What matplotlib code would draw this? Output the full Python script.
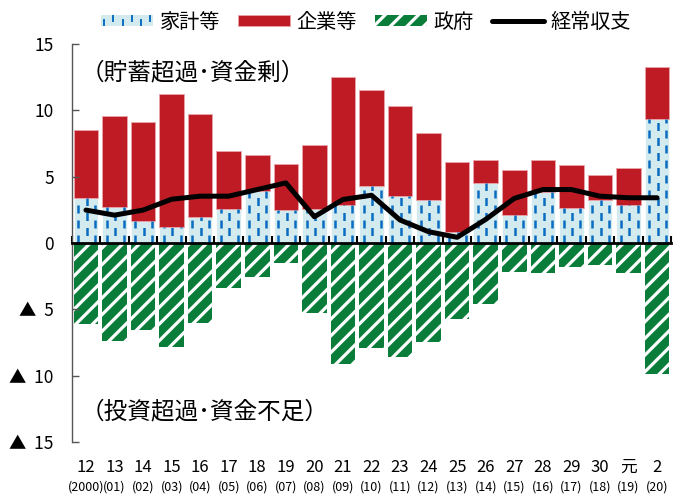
import numpy as np
import matplotlib
matplotlib.use('Agg')
import matplotlib.pyplot as plt
from matplotlib.lines import Line2D
from matplotlib.patches import Rectangle, Patch
from matplotlib.legend_handler import HandlerBase

plt.rcParams['font.family'] = ['Noto Sans CJK JP', 'DejaVu Sans']
plt.rcParams['hatch.linewidth'] = 2.3

# ---- data (percent of GDP) ----
years = ['12', '13', '14', '15', '16', '17', '18', '19', '20', '21', '22',
         '23', '24', '25', '26', '27', '28', '29', '30', '元', '2']
western = ['(2000)', '(01)', '(02)', '(03)', '(04)', '(05)', '(06)', '(07)',
           '(08)', '(09)', '(10)', '(11)', '(12)', '(13)', '(14)', '(15)',
           '(16)', '(17)', '(18)', '(19)', '(20)']
household = [3.36, 2.68, 1.65, 1.18, 1.98, 2.58, 3.93, 2.48, 2.60, 2.90, 4.31,
             3.56, 3.23, 0.80, 4.53, 2.13, 3.86, 2.66, 3.23, 2.86, 9.32]
corporate = [5.19, 6.87, 7.47, 10.02, 7.72, 4.34, 2.74, 3.51, 4.77, 9.58, 7.19,
             6.74, 5.09, 5.34, 1.74, 3.41, 2.38, 3.20, 1.88, 2.78, 3.96]
government = [-6.09, -7.35, -6.59, -7.84, -6.04, -3.41, -2.58, -1.48, -5.29,
              -9.10, -7.92, -8.60, -7.47, -5.74, -4.59, -2.20, -2.26, -1.83,
              -1.65, -2.28, -9.85]
current_account = [2.48, 2.10, 2.48, 3.30, 3.53, 3.53, 4.03, 4.53, 1.98, 3.28,
                   3.60, 1.73, 0.85, 0.43, 1.78, 3.36, 4.03, 4.03, 3.53, 3.41,
                   3.41]
ytick_vals = [15, 10, 5, 0, -5, -10, -15]
ytick_labels = ['15', '10', '5', '0', '▲  5', '▲  10', '▲  15']

LIGHT = '#d3eaef'
BLUE = '#0a6cc0'
RED = '#be1b24'
GREEN = '#0a7d3a'

fig = plt.figure(figsize=(6.8, 4.97), dpi=100)
ax = fig.add_axes([71.7 / 680, 1 - 442 / 497, (671.3 - 71.7) / 680, 398 / 497])

x = np.arange(len(years))
w = 0.86
hb = ax.bar(x, household, w, color=LIGHT, edgecolor='white', linewidth=0.5)
cb = ax.bar(x, corporate, w, bottom=household, color=RED,
            edgecolor='#e9a5aa', linewidth=0.6, label='企業等')
gb = ax.bar(x, government, w, color=GREEN, edgecolor='white', hatch='//',
            linewidth=0, label='政府')

# dashed vertical texture on household bars
for rect in hb:
    x0, wd, h = rect.get_x(), rect.get_width(), rect.get_height()
    for k, f in enumerate((0.18, 0.53, 0.87)):
        ax.plot([x0 + f * wd] * 2, [0, h], color=BLUE, lw=1.8,
                linestyle=(3.0 * (k % 2), (3.2, 2.8)), solid_capstyle='butt',
                dash_capstyle='butt', zorder=1.5)

ln, = ax.plot(x, current_account, color='black', lw=3.6,
              solid_joinstyle='round', solid_capstyle='round', zorder=5,
              label='経常収支')

ax.set_xlim(-0.5, len(years) - 0.5)
ax.set_ylim(-15, 15)

for s in ('top', 'right'):
    ax.spines[s].set_visible(False)
ax.spines['left'].set_color('#555555')
ax.spines['left'].set_linewidth(1.0)
ax.spines['bottom'].set_position(('data', 0))
ax.spines['bottom'].set_color('black')
ax.spines['bottom'].set_linewidth(2.0)
ax.spines['bottom'].set_zorder(6)

ax.set_yticks(ytick_vals, labels=ytick_labels)
ax.tick_params(axis='y', direction='in', length=5, width=1.0, color='#555555',
               pad=13, labelsize=12.5)

ax.set_xticks([])
ax.set_xticks(np.arange(-0.5, len(years), 1), minor=True)
ax.tick_params(axis='x', which='minor', direction='in', length=5, width=1.5,
               color='black', labelbottom=False)

sec = ax.secondary_xaxis('bottom')
sec.set_xticks(x, labels=years)
sec.tick_params(length=0, pad=12, labelsize=12)
sec.spines['bottom'].set_visible(False)

for xi, lab in zip(x, western):
    ax.text(xi, -0.113, lab, transform=ax.get_xaxis_transform(), ha='center',
            va='center', fontsize=9)

ax.text(0.014, 12.86, '（貯蓄超過･資金剰）', ha='left', va='center',
        fontsize=17, transform=ax.get_yaxis_transform())
ax.text(0.014, -12.7, '（投資超過･資金不足）', ha='left', va='center',
        fontsize=17, transform=ax.get_yaxis_transform())


class HouseHandler(HandlerBase):
    def create_artists(self, legend, orig_handle, xdescent, ydescent, width,
                       height, fontsize, trans):
        arts = [Rectangle((-xdescent, -ydescent), width, height,
                          facecolor=LIGHT, edgecolor='none', transform=trans)]
        for k, f in enumerate(np.linspace(0.06, 0.94, 6)):
            y0 = -ydescent + (0.1 if k % 2 == 0 else 0.45) * height
            arts.append(Line2D([-xdescent + f * width] * 2, [y0, y0 + 0.45 * height],
                               color=BLUE, lw=1.4, transform=trans))
        return arts


house_handle = Patch(facecolor=LIGHT, label='家計等')
handles = [house_handle, cb, gb, ln]
labels = ['家計等', '企業等', '政府', '経常収支']
fig.legend(handles, labels, loc='center', bbox_to_anchor=(0.538, 0.955), ncol=4,
           frameon=False, fontsize=14.5, handlelength=2.6, handleheight=0.5,
           handletextpad=0.3, columnspacing=0.9,
           handler_map={house_handle: HouseHandler()})

fig.savefig('out.png', dpi=100)
